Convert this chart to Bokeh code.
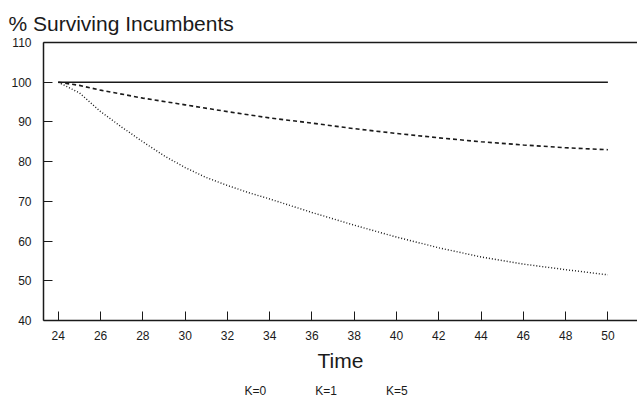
from bokeh.plotting import figure
from bokeh.models import LinearAxis, FixedTicker, Range1d, Title
from bokeh.embed import file_html
from bokeh.resources import INLINE

# Data
time_k0 = [24, 26, 28, 30, 32, 34, 36, 38, 40, 42, 44, 46, 48, 50]
surv_k0 = [100, 100, 100, 100, 100, 100, 100, 100, 100, 100, 100, 100, 100, 100]

time_k1 = [24, 25, 26, 28, 30, 32, 34, 36, 38, 40, 42, 44, 46, 48, 50]
surv_k1 = [100, 99.2, 98.0, 96.0, 94.3, 92.6, 91.0, 89.7, 88.3, 87.1, 86.0, 85.0, 84.2, 83.5, 83.0]

time_k5 = [24, 25, 26, 27, 28, 29, 30, 31, 32, 33, 34, 36, 38, 40, 42, 44, 46, 48, 50]
surv_k5 = [100, 97.3, 92.6, 88.7, 85.0, 81.5, 78.5, 76.0, 74.0, 72.2, 70.6, 67.2, 64.0, 61.0, 58.3, 56.0, 54.2, 52.8, 51.5]

x_ticks = [24, 26, 28, 30, 32, 34, 36, 38, 40, 42, 44, 46, 48, 50]
y_ticks = [40, 50, 60, 70, 80, 90, 100, 110]
legend_labels = ["K=0", "K=1", "K=5"]

FONT = "Liberation Sans"
INK = "#1a1a1a"

p = figure(width=637, height=404, output_backend="svg", toolbar_location=None,
           x_range=Range1d(23.3, 51.4), y_range=Range1d(40, 110),
           min_border_left=43, min_border_right=0, min_border_top=42,
           min_border_bottom=84, x_axis_location=None, y_axis_location=None)
p.outline_line_color = None
p.xgrid.visible = False
p.ygrid.visible = False
p.background_fill_color = "white"
p.border_fill_color = "white"

# x axis (bottom)
xa = LinearAxis(ticker=FixedTicker(ticks=x_ticks))
xa.axis_label = "Time"
xa.axis_label_text_font = FONT
xa.axis_label_text_font_size = "21px"
xa.axis_label_text_font_style = "normal"
xa.axis_label_text_color = INK
xa.axis_label_standoff = 6
xa.major_tick_in = 9
xa.major_tick_out = 0
xa.minor_tick_line_color = None
xa.major_label_standoff = 10
xa.major_label_text_font = FONT
xa.major_label_text_font_size = "12px"
xa.major_label_text_color = INK
xa.axis_line_width = 1.5
xa.axis_line_color = INK
xa.major_tick_line_color = INK
p.add_layout(xa, "below")

# legend row (text only, no swatches in the reference)
gap = "\u00a0" * 14 + "\u2009"
p.add_layout(Title(text=gap.join(legend_labels), align="left", offset=201,
                   text_font=FONT, text_font_size="12px", text_font_style="normal",
                   text_color=INK, standoff=14), "below")

# y axis (left)
ya = LinearAxis(ticker=FixedTicker(ticks=y_ticks))
ya.major_tick_in = 9
ya.major_tick_out = 0
ya.minor_tick_line_color = None
ya.major_label_standoff = 12
ya.major_label_text_font = FONT
ya.major_label_text_font_size = "12px"
ya.major_label_text_color = INK
ya.axis_line_width = 1.5
ya.axis_line_color = INK
ya.major_tick_line_color = INK
p.add_layout(ya, "left")

# top frame line only
ta = LinearAxis(ticker=FixedTicker(ticks=[]))
ta.major_tick_line_color = None
ta.minor_tick_line_color = None
ta.major_label_text_font_size = "0px"
ta.axis_line_width = 1.5
ta.axis_line_color = INK
p.add_layout(ta, "above")

p.add_layout(Title(text="% Surviving Incumbents", align="left", offset=-35,
                   text_font=FONT, text_font_size="21px", text_font_style="normal",
                   text_color=INK, standoff=16), "above")

p.line(time_k0, surv_k0, line_color=INK, line_width=1.5)
p.line(time_k1, surv_k1, line_color=INK, line_width=1.6, line_dash="4 3")
p.line(time_k5, surv_k5, line_color=INK, line_width=1.4, line_dash="1 2")

open("out.html", "w").write(file_html(p, INLINE))
